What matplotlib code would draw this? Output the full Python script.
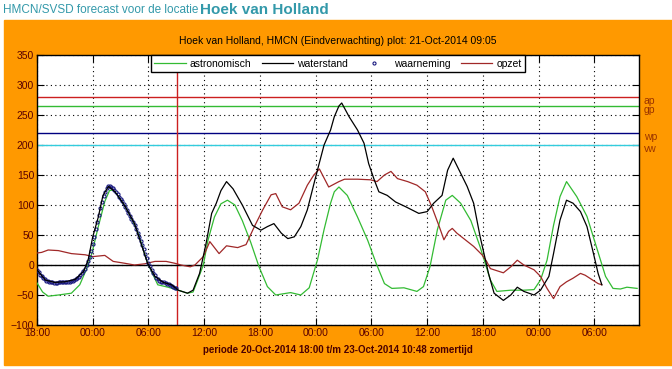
import matplotlib
matplotlib.use('Agg')
import matplotlib.pyplot as plt
from matplotlib.patches import Rectangle

# hours since 20-Oct-2014 18:00
astro_t = [0.0, 0.6, 1.2, 2.3, 3.7, 4.6, 5.3, 5.9, 6.6, 7.3, 7.8, 8.2, 8.7, 9.8, 10.9, 11.9,
           13.0, 14.1, 15.2, 16.2, 16.8, 17.3, 17.9, 18.4, 19.1, 19.8, 20.5, 21.3, 22.1, 23.0,
           23.9, 24.8, 25.7, 27.3, 28.4, 29.3, 30.2, 30.9, 31.6, 32.0, 32.5, 33.4, 34.5, 35.6,
           36.5, 37.4, 38.2, 39.5, 40.9, 41.6, 42.3, 43.1, 44.0, 44.7, 45.6, 46.7, 47.7, 48.4,
           48.8, 49.5, 51.0, 52.4, 53.5, 54.2, 54.9, 55.6, 56.3, 57.0, 58.1, 59.2, 60.2, 61.2,
           62.0, 62.8, 63.5, 64.6]
astro_v = [-30, -45, -52, -50, -47, -33, -8, 19, 64, 106, 124, 125, 116, 89, 53, 3,
           -33, -37, -42, -47, -45, -25, 0, 41, 80, 102, 108, 100, 74, 38,
           -3, -36, -50, -46, -50, -38, 9, 59, 103, 122, 130, 116, 80, 41,
           3, -31, -39, -38, -44, -36, -3, 59, 108, 116, 103, 74, 30, -5,
           -25, -44, -42, -42, -41, -25, 8, 66, 114, 139, 114, 81, 31, -19,
           -39, -40, -37, -39]

water_t = [0.0, 0.9, 1.9, 3.0, 4.1, 5.0, 5.5, 6.0, 6.6, 7.1, 7.7, 8.4, 9.4, 10.5, 11.2, 11.9,
           12.7, 13.6, 14.5, 15.2, 16.2, 16.8, 17.5, 18.2, 18.8, 19.3, 19.8, 20.4, 21.1, 22.1,
           23.2, 24.1, 24.8, 25.5, 26.3, 27.0, 27.7, 28.4, 29.1, 30.0, 30.9, 31.6, 32.0, 32.5,
           32.8, 33.6, 34.5, 35.2, 35.7, 36.3, 36.8, 37.7, 38.6, 39.7, 41.1, 42.0, 42.7, 43.6,
           44.2, 44.8, 45.6, 46.3, 47.0, 47.7, 48.1, 48.6, 49.2, 50.2, 51.0, 51.7, 52.4, 53.5,
           54.2, 55.1, 55.6, 56.3, 57.0, 57.7, 58.5, 59.2, 59.9, 60.4, 60.8]
water_v = [-8, -25, -29, -28, -24, -11, 8, 47, 80, 116, 131, 122, 100, 69, 36, 3,
           -19, -29, -33, -42, -47, -42, -14, 36, 86, 103, 124, 139, 127, 100,
           66, 58, 64, 69, 53, 44, 47, 64, 92, 147, 200, 225, 247, 265,
           270, 247, 225, 203, 169, 142, 122, 116, 105, 97, 86, 89, 103, 116,
           158, 178, 153, 131, 103, 47, 20, -14, -47, -59, -50, -37, -44, -50,
           -42, -19, 19, 75, 108, 103, 89, 64, 19, -14, -33]

# observations every 10 minutes up to plot time
obs_t = [i / 6 for i in range(91)]
obs_v = [-8, -12, -16, -19, -22, -24, -26, -27, -28, -29,
         -29, -30, -30, -30, -29, -28, -28, -29, -29, -29,
         -28, -28, -27, -26, -25, -24, -22, -20, -17, -14,
         -10, -6, 0, 6, 14, 24, 35, 47, 60, 72,
         83, 95, 105, 115, 122, 128, 131, 131, 130, 128,
         125, 122, 118, 114, 110, 106, 101, 97, 92, 87,
         82, 77, 72, 66, 60, 54, 47, 40, 33, 26,
         18, 11, 4, -2, -8, -13, -17, -21, -24, -26,
         -28, -29, -29, -30, -31, -32, -33, -35, -36, -38, -39]

surge_t = [0.0, 0.5, 1.2, 2.3, 3.7, 5.2, 6.0, 7.3, 8.2, 9.4, 10.5, 11.6, 12.7, 13.9, 14.8, 15.5,
           16.5, 17.0, 17.9, 18.6, 19.1, 19.6, 20.4, 21.6, 22.5, 23.4, 24.3, 25.2, 25.7, 26.4,
           27.3, 28.2, 29.1, 29.8, 30.4, 31.4, 32.5, 33.1, 34.5, 35.9, 36.6, 37.4, 38.1, 38.8,
           39.9, 40.9, 41.8, 42.5, 43.3, 43.8, 44.3, 44.7, 45.2, 46.1, 47.0, 47.9, 48.4, 48.8,
           50.2, 51.0, 51.7, 52.4, 53.5, 54.2, 54.9, 55.6, 56.3, 57.0, 57.7, 58.5, 59.0, 59.7,
           60.4, 60.8]
surge_v = [20, 21, 25, 24, 19, 17, 14, 16, 6, 3, 0, 2, 6, 6, 3, 0,
           -3, 0, 14, 39, 29, 19, 32, 29, 34, 64, 92, 117, 119, 97,
           92, 103, 133, 150, 160, 130, 139, 143, 143, 142, 139, 150, 156, 144,
           139, 133, 122, 97, 64, 42, 56, 61, 53, 42, 31, 17, 6, -6,
           -13, -3, 8, 0, -8, -19, -39, -56, -36, -28, -22, -14, -17, -24,
           -31, -33]

levels = ['ap', 'gp', 'wp', 'vw']
level_vals = [280, 265, 220, 200]
level_cols = ['#cc2020', '#33bb33', '#000080', '#33ccdd']

plot_time = 15.08
x_ticks = list(range(0, 61, 6))
x_labels = ['18:00', '00:00', '06:00', '12:00'] * 2 + ['18:00', '00:00', '06:00']

plt.rcParams['font.family'] = ['Liberation Sans', 'DejaVu Sans']

fig = plt.figure(figsize=(6.72, 3.69), dpi=100)
fig.patch.set_facecolor('white')
fig.patches.append(Rectangle((4 / 672, 1 - 365 / 369), 668 / 672, 345 / 369,
                             transform=fig.transFigure, color='#ff9900', zorder=-5))
fig.text(0.004, 0.972, 'HMCN/SVSD forecast voor de locatie', color='#3399aa',
         fontsize=8.5, va='center', ha='left')
fig.text(200 / 672, 0.972, 'Hoek van Holland', color='#3399aa', fontsize=11,
         fontweight='bold', va='center', ha='left')

ax = fig.add_axes([37 / 672, 1 - 325 / 369, 602 / 672, 270 / 369])
ax.set_facecolor('white')

for name, val, col in zip(levels, level_vals, level_cols):
    ax.axhline(val, color=col, lw=1, zorder=2)
    ax.text(1.008, val - 7, name, transform=ax.get_yaxis_transform(), color='#993300',
            fontsize=7.5, va='center', ha='left')
ax.axvline(plot_time, color='#cc2020', lw=1, zorder=2)
ax.axhline(0, color='black', lw=1, zorder=2)

ax.plot(astro_t, astro_v, color='#33bb33', lw=0.9, label='astronomisch', zorder=3)
ax.plot(surge_t, surge_v, color='#a02828', lw=0.9, label='opzet', zorder=3)
ax.plot(obs_t, obs_v, ls='none', marker='o', ms=2.2, mfc='none', mec='#1a1a80',
        mew=0.8, label='waarneming', zorder=4)
ax.plot(water_t, water_v, color='black', lw=0.9, label='waterstand', zorder=5)

ax.set_xlim(0, 64.8)
ax.set_ylim(-100, 350)
ax.set_xticks(x_ticks)
ax.set_xticklabels(x_labels)
ax.set_yticks(range(-100, 351, 50))
ax.grid(True, color='black', ls=(0, (1, 3)), lw=0.8)
ax.tick_params(direction='in', length=5, top=True, right=True, labelsize=7.5,
               labelcolor='#5a0000', pad=2)
for s in ax.spines.values():
    s.set_linewidth(1)

ax.set_title('Hoek van Holland, HMCN (Eindverwachting) plot: 21-Oct-2014 09:05',
             fontsize=7.5, pad=8)
ax.set_xlabel('periode 20-Oct-2014 18:00 t/m 23-Oct-2014 10:48 zomertijd',
              fontsize=7, fontweight='bold', color='#4a0000', labelpad=5)

h, l = ax.get_legend_handles_labels()
order = [0, 3, 2, 1]
leg = ax.legend([h[i] for i in order], [l[i] for i in order],
                loc='upper center', bbox_to_anchor=(0.5, 1.0), ncol=4, fontsize=7.5,
                frameon=True, fancybox=False, edgecolor='black', framealpha=1,
                borderaxespad=0, handlelength=3.0, columnspacing=1.0, handletextpad=0.4,
                borderpad=0.35)
leg.get_frame().set_linewidth(1)
leg.set_zorder(10)

fig.savefig('out.png', dpi=100)
